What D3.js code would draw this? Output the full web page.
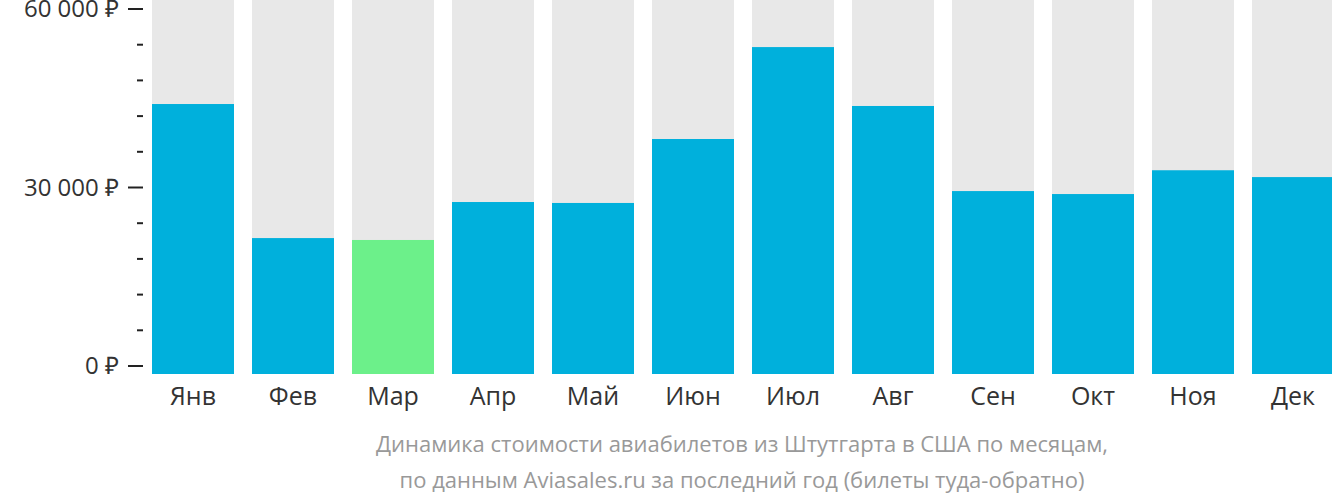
<!DOCTYPE html><html><head><meta charset="utf-8"><script src="https://cdn.jsdelivr.net/npm/d3@7"></script>
<style>body{margin:0;background:#fff}svg{font-family:"Open Sans",sans-serif}</style></head><body><svg width="1332" height="502"></svg>
<script>
const months=["Янв","Фев","Мар","Апр","Май","Июн","Июл","Авг","Сен","Окт","Ноя","Дек"];
const prices=[44030,21500,21180,27560,27400,38150,53600,43700,29400,28900,32900,31750];
const highlight=["Мар"];
const majorTicks=[0,30000,60000];
const caption=["Динамика стоимости авиабилетов из Штутгарта в США по месяцам,","по данным Aviasales.ru за последний год (билеты туда-обратно)"];
const svg=d3.select("svg");
const y=d3.scaleLinear().domain([0,60000]).range([366,9]);
const x=d3.scaleBand().domain(months).range([143,1343]).paddingInner(0.18).paddingOuter(0.09);
const base=374;
svg.selectAll(".bg").data(months).join("rect").attr("x",d=>x(d)).attr("width",x.bandwidth()).attr("y",0).attr("height",base).attr("fill","#e8e8e8");
svg.selectAll(".bar").data(months).join("rect").attr("x",d=>x(d)).attr("width",x.bandwidth())
 .attr("y",(d,i)=>y(prices[i])).attr("height",(d,i)=>base-y(prices[i]))
 .attr("fill",d=>highlight.includes(d)?"#6cf08a":"#00b0dc");
const fmt=v=>d3.format(",")(v).replace(/,/g," ")+" ₽";
const ax=svg.append("g").attr("transform","translate(143,0)");
ax.selectAll(".mt").data(d3.range(0,60001,6000)).join("line").attr("x1",d=>majorTicks.includes(d)?-15:-6).attr("x2",0)
 .attr("y1",d=>y(d)).attr("y2",d=>y(d)).attr("stroke","#222").attr("stroke-width",2);
ax.selectAll(".tl").data(majorTicks).join("text").attr("x",-24).attr("y",d=>y(d)).attr("dy","0.35em").attr("text-anchor","end")
 .attr("font-size",24).attr("fill","#333").text(fmt);
svg.selectAll(".ml").data(months).join("text").attr("x",d=>x(d)+x.bandwidth()/2).attr("y",405).attr("text-anchor","middle")
 .attr("font-size",25).attr("fill","#333").text(d=>d);
svg.selectAll(".cap").data(caption).join("text").attr("x",742).attr("y",(d,i)=>452+i*36).attr("text-anchor","middle")
 .attr("font-size",22).attr("fill","#999").text(d=>d);
</script></body></html>
